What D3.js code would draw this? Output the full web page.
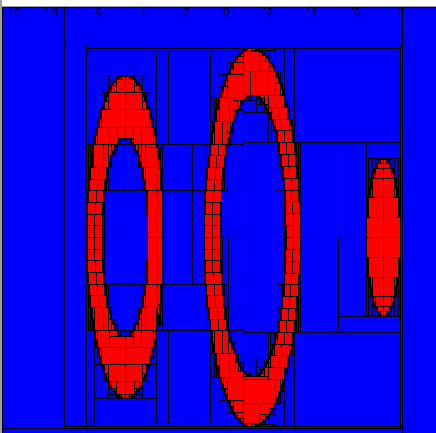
<!DOCTYPE html>
<html>
<head>
<meta charset="utf-8">
<script src="https://cdn.jsdelivr.net/npm/d3@7"></script>
<style>
  body { margin: 0; background: #fff; }
  svg { display: block; }
  .axis text { font-family: "Liberation Sans", Arial, sans-serif; font-size: 11px; fill: #000; }
  .axis line { stroke: #000; }
</style>
</head>
<body>
<div id="graph"></div>
<script>
// window shown, in world units
var viewX = [-10, 10]
var viewY = [-10, 10]
// initial box handed to the paver
var boxX = [-7.12, 8.35]
var boxY = [-9.31, 8.26]
// labels along the top
var tickValues = [-10, -8, -6, -4, -2, 0, 2, 4, 6, 8]

// each shape = inside the outer ellipse and outside the inner one: [cx, cy, ax, ay]
var shapeNames = ["left ring", "middle ring", "right blob"]
var outerEllipses = [[-4.35, -0.53, 1.76, 7.41], [1.46, -0.55, 2.20, 8.67], [7.46, -0.55, 0.78, 3.62]]
var innerEllipses = [[-4.37, -0.55, 1.05, 4.55], [1.49, -0.48, 1.51, 6.45], null]

var eps = 0.06 // smallest box we still bisect

var W = 436, H = 433
var x = d3.scaleLinear().domain(viewX).range([2, 439])
var y = d3.scaleLinear().domain(viewY).range([444, 7])

var colors = {out: "#0000ff", in: "#ff0000", bnd: "#ffff00"}

// ---- small interval helpers, intervals are [lo, hi], null = empty
function inter(a, b) {
    if (!a || !b) return null
    var lo = Math.max(a[0], b[0]), hi = Math.min(a[1], b[1])
    return lo > hi ? null : [lo, hi]
}
function hull(a, b) {
    if (!a) return b
    if (!b) return a
    return [Math.min(a[0], b[0]), Math.max(a[1], b[1])]
}
function sqr(a) {
    if (a[0] >= 0) return [a[0] * a[0], a[1] * a[1]]
    if (a[1] <= 0) return [a[1] * a[1], a[0] * a[0]]
    return [0, Math.max(a[0] * a[0], a[1] * a[1])]
}
function sqrtBack(u, u2) {
    if (!u2) return null
    var r1 = Math.sqrt(Math.max(0, u2[0])), r2 = Math.sqrt(u2[1])
    return hull(inter(u, [r1, r2]), inter(u, [-r2, -r1]))
}
function boxHull(a, b) {
    if (!a) return b
    if (!b) return a
    return {x: hull(a.x, b.x), y: hull(a.y, b.y)}
}

var LE = [0, 1], GE = [1, Infinity]

// forward-backward contractor for ((x-cx)/ax)^2 + ((y-cy)/ay)^2 in F
function contractEll(b, e, F) {
    if (!b) return null
    var cx = e[0], cy = e[1], ax = e[2], ay = e[3]
    for (var k = 0; k < 2; k++) {
        var u = [(b.x[0] - cx) / ax, (b.x[1] - cx) / ax]
        var v = [(b.y[0] - cy) / ay, (b.y[1] - cy) / ay]
        var u2 = sqr(u), v2 = sqr(v)
        var s = inter([u2[0] + v2[0], u2[1] + v2[1]], F)
        if (!s) return null
        u2 = inter(u2, [s[0] - v2[1], s[1] - v2[0]])
        if (!u2) return null
        v2 = inter(v2, [s[0] - u2[1], s[1] - u2[0]])
        if (!v2) return null
        u = sqrtBack(u, u2)
        v = sqrtBack(v, v2)
        if (!u || !v) return null
        b = {x: [u[0] * ax + cx, u[1] * ax + cx], y: [v[0] * ay + cy, v[1] * ay + cy]}
    }
    return b
}

// keep only the part of b that may touch shape i
function cShape(b, i) {
    for (var k = 0; k < 2 && b; k++) {
        b = contractEll(b, outerEllipses[i], LE)
        if (innerEllipses[i]) b = contractEll(b, innerEllipses[i], GE)
    }
    return b
}
// keep only the part of b that may be outside shape i
function cNotShape(b, i) {
    var a = contractEll(b, outerEllipses[i], GE)
    if (!innerEllipses[i]) return a
    return boxHull(a, contractEll(b, innerEllipses[i], LE))
}
function cOut(b) {
    var r = null
    shapeNames.forEach(function (n, i) { r = boxHull(r, cShape(b, i)) })
    return r
}
function cIn(b) {
    shapeNames.forEach(function (n, i) { if (b) b = cNotShape(b, i) })
    return b
}

var boxes = []
function push(x0, x1, y0, y1, kind) {
    if (x1 - x0 > 1e-9 && y1 - y0 > 1e-9) boxes.push({x0: x0, x1: x1, y0: y0, y1: y1, kind: kind})
}
// b minus the inner box c, as up to four rectangles
function diff(b, c, kind) {
    push(b.x[0], c.x[0], c.y[0], b.y[1], kind)
    push(b.x[0], c.x[1], b.y[0], c.y[0], kind)
    push(c.x[1], b.x[1], b.y[0], b.y[1], kind)
    push(c.x[0], c.x[1], c.y[1], b.y[1], kind)
}

var start = {x: boxX, y: boxY}
diff({x: viewX, y: viewY}, start, "out")

var stack = [start]
while (stack.length) {
    var b = stack.pop()
    var bo = cOut(b)
    if (!bo) { push(b.x[0], b.x[1], b.y[0], b.y[1], "out"); continue }
    diff(b, bo, "out")
    var bi = cIn(bo)
    if (!bi) { push(bo.x[0], bo.x[1], bo.y[0], bo.y[1], "in"); continue }
    diff(bo, bi, "in")
    var wx = bi.x[1] - bi.x[0], wy = bi.y[1] - bi.y[0]
    if (Math.max(wx, wy) < eps) { push(bi.x[0], bi.x[1], bi.y[0], bi.y[1], "bnd"); continue }
    if (wx > wy) {
        var mx = (bi.x[0] + bi.x[1]) / 2
        stack.push({x: [mx, bi.x[1]], y: bi.y}, {x: [bi.x[0], mx], y: bi.y})
    } else {
        var my = (bi.y[0] + bi.y[1]) / 2
        stack.push({x: bi.x, y: [bi.y[0], my]}, {x: bi.x, y: [my, bi.y[1]]})
    }
}

var svg = d3.select("#graph").append("svg")
    .attr("width", W)
    .attr("height", H)

svg.append("rect").attr("width", W).attr("height", H).attr("fill", "#fff")

svg.append("g")
    .attr("class", "paving")
    .selectAll("rect")
    .data(boxes)
    .join("rect")
    .attr("x", function (d) { return x(d.x0) })
    .attr("y", function (d) { return y(d.y1) })
    .attr("width", function (d) { return x(d.x1) - x(d.x0) })
    .attr("height", function (d) { return y(d.y0) - y(d.y1) })
    .attr("fill", function (d) { return colors[d.kind] })
    .attr("stroke", "#000")
    .attr("stroke-width", 1)
    .attr("shape-rendering", "crispEdges")

// frame on the left and top
svg.append("rect").attr("x", 0).attr("y", 0).attr("width", 2).attr("height", H).attr("fill", "#a0a0a0")
svg.append("rect").attr("x", 0).attr("y", 6).attr("width", W).attr("height", 1).attr("fill", "#a0a0a0")

var axis = d3.axisBottom(x)
    .tickValues(tickValues)
    .tickSize(3)
    .tickFormat(function (d) { return String(d) })

var g = svg.append("g")
    .attr("class", "axis")
    .attr("transform", "translate(0,7)")
    .call(axis)
g.select(".domain").remove()
g.selectAll("text")
    .attr("x", 2.5)
    .attr("y", 1)
    .attr("text-anchor", "start")
g.selectAll("line").attr("shape-rendering", "crispEdges")
</script>
</body>
</html>
